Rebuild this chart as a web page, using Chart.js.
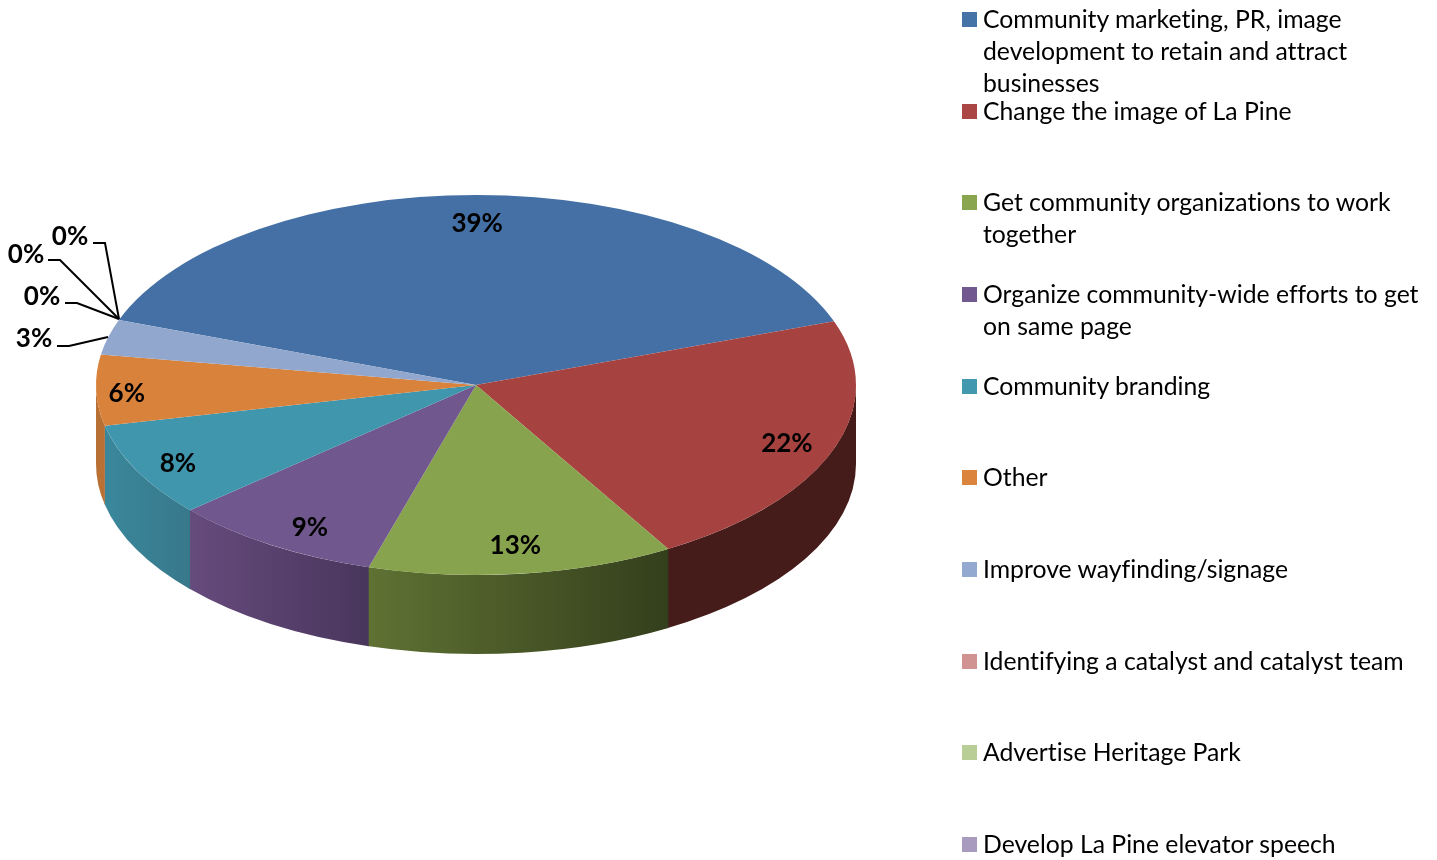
<!DOCTYPE html>
<html>
<head>
<meta charset="utf-8">
<title>Community priorities</title>
<script src="https://cdn.jsdelivr.net/npm/chart.js@4/dist/chart.umd.js"></script>
<style>
    html, body { margin: 0; background: #fff; }
    #wrap { position: relative; width: 1437px; height: 860px; overflow: hidden; }
    canvas { position: absolute; left: 0; top: 0; }
    .legend-row { position: absolute; left: 962px; font: 24.75px/32px Lato, sans-serif; font-variant-ligatures: none; color: #000; white-space: nowrap; }
    .legend-row i { position: absolute; left: 0; top: 9px; width: 15px; height: 15px; }
    .legend-row span { display: block; margin-left: 21px; }
</style>
</head>
<body>
<div id="wrap">
    <canvas id="pieChart" width="1437" height="860"></canvas>
    <div id="legend"></div>
</div>
<script>
const categories = [
    ['Community marketing, PR, image', 'development to retain and attract', 'businesses'],
    ['Change the image of La Pine'],
    ['Get community organizations to work', 'together'],
    ['Organize community-wide efforts to get', 'on same page'],
    ['Community branding'],
    ['Other'],
    ['Improve wayfinding/signage'],
    ['Identifying a catalyst and catalyst team'],
    ['Advertise Heritage Park'],
    ['Develop La Pine elevator speech']
];
const shares = [39, 22, 13, 9, 8, 6, 3, 0, 0, 0];

const legendColors = ['#4572A7', '#AA4643', '#89A54E', '#71588F', '#4198AF', '#DB843D', '#93A9CF', '#D19392', '#B9CD96', '#A99BBD'];
const sliceColors = ['#4570A5', '#A64341', '#88A34D', '#70578D', '#4096AD', '#D9823C', '#91A7CD', '#CF9190', '#B7CB94', '#A799BB'];
// left and right shade of each slice's outer wall
const wallShades = [
    ['#2a4565', '#2a4565'], ['#451c1a', '#451c1a'], ['#5f7233', '#343f1c'],
    ['#664b7d', '#49365c'], ['#3a879b', '#38788b'], ['#b87035', '#b87035'],
    ['#5f7aa5', '#5f7aa5'], ['#8a5a59', '#8a5a59'], ['#7b8a5f', '#7b8a5f'], ['#6c6083', '#6c6083']
];

const SQUASH = 0.5;
const DEPTH = 79;

// label placement inside a slice: fraction of the radius, degrees off the slice middle
const insidePlacement = [[0.853, 0], [0.873, 0.4], [0.849, 0], [0.866, -2.3], [0.885, -0.8], [0.92, -1]];

// small slices get their label outside, with an elbow leader line
const callouts = {
    6: { text: [34, 338], line: [[57, 346], [69, 346], [108, 337]] },
    7: { text: [42, 296], line: [[65, 303], [77, 303], [119, 319]] },
    8: { text: [26, 254], line: [[48, 260], [60, 260], [119, 319]] },
    9: { text: [70, 236], line: [[93, 243], [105, 243], [119, 319]] }
};

const tiltedPie = {
    id: 'tiltedPie',
    beforeDatasetsDraw(chart) {
        const ctx = chart.ctx;
        const arcs = chart.getDatasetMeta(0).data;
        arcs.forEach((arc, i) => {
            const { x, y, startAngle, endAngle, outerRadius } = arc.getProps(['x', 'y', 'startAngle', 'endAngle', 'outerRadius']);
            const from = Math.max(startAngle, 0);
            // tiny overlap so no white hairline shows between two walls
            const to = Math.min(endAngle + 0.004, Math.PI);
            if (to <= from) return;
            const left = x + outerRadius * Math.cos(to);
            const right = x + outerRadius * Math.cos(from);
            const grad = ctx.createLinearGradient(left, 0, right, 0);
            grad.addColorStop(0, wallShades[i][0]);
            grad.addColorStop(1, wallShades[i][1]);
            ctx.beginPath();
            ctx.ellipse(x, y, outerRadius, outerRadius * SQUASH, 0, from, to);
            ctx.ellipse(x, y + DEPTH, outerRadius, outerRadius * SQUASH, 0, to, from, true);
            ctx.closePath();
            ctx.fillStyle = grad;
            ctx.fill();
        });
        // the library's arcs get flattened into an ellipse
        const c = arcs[0];
        ctx.save();
        ctx.translate(c.x, c.y);
        ctx.scale(1, SQUASH);
        ctx.translate(-c.x, -c.y);
    },
    afterDatasetsDraw(chart) {
        const ctx = chart.ctx;
        ctx.restore();
        ctx.font = 'bold 26px Lato, sans-serif';
        ctx.fontVariantLigatures = 'none';
        ctx.textAlign = 'center';
        ctx.textBaseline = 'middle';
        ctx.fillStyle = '#000';
        chart.getDatasetMeta(0).data.forEach((arc, i) => {
            const label = shares[i] + '%';
            const callout = callouts[i];
            if (callout) {
                ctx.fillText(label, callout.text[0], callout.text[1] + 1);
                ctx.beginPath();
                callout.line.forEach((p, k) => k ? ctx.lineTo(p[0], p[1]) : ctx.moveTo(p[0], p[1]));
                ctx.lineWidth = 2;
                ctx.strokeStyle = '#000';
                ctx.stroke();
                return;
            }
            const { x, y, startAngle, endAngle, outerRadius } = arc.getProps(['x', 'y', 'startAngle', 'endAngle', 'outerRadius']);
            const [fraction, nudge] = insidePlacement[i];
            const mid = (startAngle + endAngle) / 2 + nudge * Math.PI / 180;
            const r = outerRadius * fraction;
            ctx.fillText(label, x + r * Math.cos(mid), y + r * Math.sin(mid) * SQUASH + 1);
        });
    }
};

new Chart(document.getElementById('pieChart'), {
    type: 'pie',
    data: {
        labels: categories.map(c => c.join(' ')),
        datasets: [{
            data: shares,
            backgroundColor: sliceColors,
            borderWidth: 0,
            clip: false
        }]
    },
    options: {
        responsive: false,
        animation: false,
        rotation: -70,
        layout: { padding: { left: 96, right: 581, top: 5, bottom: 95 } },
        plugins: {
            legend: { display: false },
            tooltip: { enabled: false }
        }
    },
    plugins: [tiltedPie]
});

// legend rows sit at an even pitch, long names wrap inside their row
const legend = document.getElementById('legend');
categories.forEach((lines, i) => {
    const row = document.createElement('div');
    row.className = 'legend-row';
    row.style.top = (2.8 + i * 91.7) + 'px';
    row.innerHTML = '<i style="background:' + legendColors[i] + '"></i><span>' + lines.join('<br>') + '</span>';
    legend.appendChild(row);
});
</script>
</body>
</html>
